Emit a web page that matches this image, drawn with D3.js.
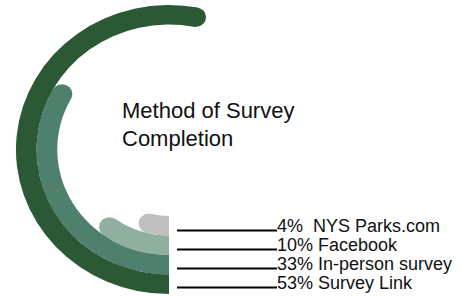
<!DOCTYPE html>
<html>
<head>
	<title>Method of Survey Completion</title>
	<script src="https://d3js.org/d3.v7.min.js"></script>
	<style>
		body{margin:0; background:#fff;}
		text{font-family: 'Liberation Sans', Arial, sans-serif; fill:#111;}
		.title{font-size:22px}
		.legend{font-size:18px; white-space:pre}
	</style>
</head>
<body>
	<div class="chart"></div>
	<script>
		// inner ring first
		const categories = ["NYS Parks.com", "Facebook", "In-person survey", "Survey Link"];
		const values = [4, 10, 33, 53];
		const labels = ["4%  NYS Parks.com", "10% Facebook", "33% In-person survey", "53% Survey Link"];
		const colors = ["#c0c0c0", "#8fb09e", "#4f806d", "#2b5936"];

		const svg = d3.select('.chart').append('svg')
					.attr('width', 461).attr('height', 296)

		// rings are a bit wider than tall in the original
		const rings = svg.append('g')
					.attr('transform', 'translate(169,149.5) scale(1.059,1)')

		const radius = d3.scaleBand()
					.domain(categories)
					.range([66.5, 144.5])
					.padding(0)

		const angle = d3.scaleLinear()
					.domain([0, 100])
					.range([Math.PI, 3 * Math.PI])

		const arc = d3.arc()
					.innerRadius(d => radius(d.cat))
					.outerRadius(d => radius(d.cat) + radius.bandwidth())
					.startAngle(angle(0))
					.endAngle(d => angle(d.val))

		const data = categories.map((c, i) => ({cat: c, val: values[i], color: colors[i]}))

		rings.selectAll('path.ring')
			.data(data)
			.join('path')
			.attr('class', 'ring')
			.attr('d', arc)
			.attr('fill', d => d.color)

		// round cap at the end of each ring
		rings.selectAll('circle.cap')
			.data(data)
			.join('circle')
			.attr('class', 'cap')
			.attr('cx', d => (radius(d.cat) + radius.bandwidth() / 2) * Math.sin(angle(d.val)))
			.attr('cy', d => -(radius(d.cat) + radius.bandwidth() / 2) * Math.cos(angle(d.val)))
			.attr('r', radius.bandwidth() / 2)
			.attr('fill', d => d.color)

		const title = svg.append('text').attr('class', 'title').attr('x', 122).attr('y', 118)
		title.append('tspan').attr('x', 122).text('Method of Survey')
		title.append('tspan').attr('x', 122).attr('dy', 28).text('Completion')

		const rowY = d3.scalePoint()
					.domain(categories)
					.range([230.5, 287.5])

		const legend = svg.append('g')
		legend.selectAll('line')
			.data(categories)
			.join('line')
			.attr('x1', 177).attr('x2', 277)
			.attr('y1', d => rowY(d)).attr('y2', d => rowY(d))
			.attr('stroke', '#000').attr('stroke-width', 2)

		legend.selectAll('text')
			.data(categories)
			.join('text')
			.attr('class', 'legend')
			.attr('x', 277)
			.attr('y', d => rowY(d) + 1)
			.text((d, i) => labels[i])
	</script>
</body>
</html>
